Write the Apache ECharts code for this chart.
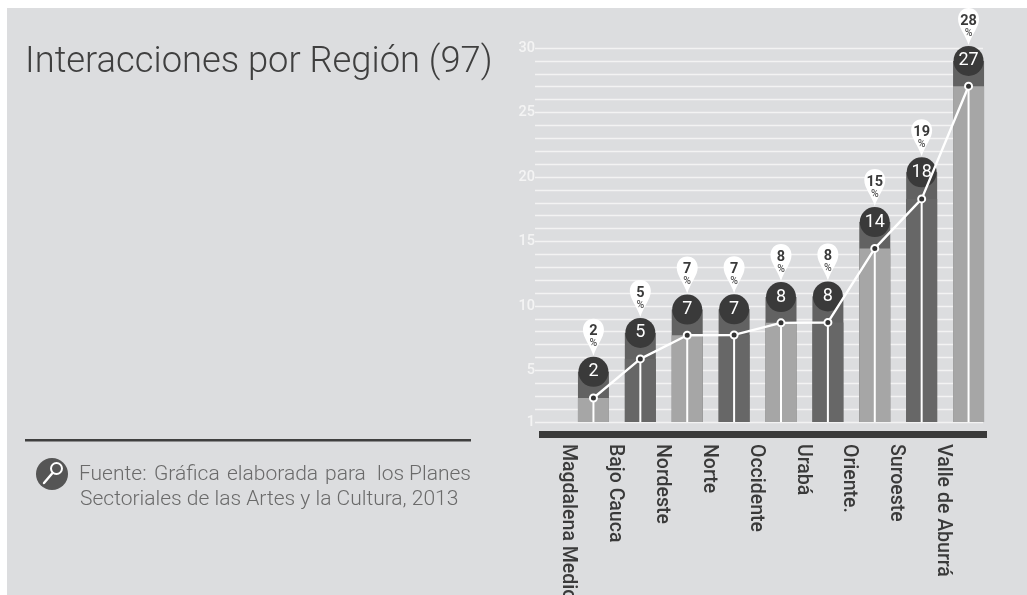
<!DOCTYPE html>
<html><head><meta charset="utf-8">
<style>
html,body{margin:0;padding:0;background:#fff;overflow:hidden}
#bg{position:absolute;left:7px;top:8px;width:1020px;height:587px;background:#dcdddf}
#c{position:absolute;left:0;top:0;width:1027px;height:595px}
</style>
<script src="https://cdn.jsdelivr.net/npm/echarts@6/dist/echarts.min.js"></script>
</head><body><div id="bg"></div><div id="c"></div>
<script>
const categories=['Magdalena Medio','Bajo Cauca','Nordeste','Norte','Occidente','Urabá','Oriente.','Suroeste','Valle de Aburrá'];
const counts=[2,5,7,7,8,8,14,18,27];
const percents=[2,5,7,7,8,8,15,19,28];
const barTops=[4.89,7.91,9.72,9.74,10.69,10.74,16.5,20.36,29.0];
const lineValues=[2.86,5.89,7.73,7.75,8.69,8.72,14.46,18.3,27.04];
const sourceLine1=[['Fuente:',79],['Gráfica',154],['elaborada',227],['para',325],['los',377],['Planes',409]];
const sourceLine2='Sectoriales de las Artes y la Cultura, 2013';

const FONT='Roboto';
const chart=echarts.init(document.getElementById('c'),null,{renderer:'canvas'});
const PIN='M10.5 0C16.5 0 21 4.6 21 11C21 19 14 26 10.5 37C7 26 0 19 0 11C0 4.6 4.5 0 10.5 0Z';
const yBase={type:'value',min:1,max:30,interval:1};
const graphic=[
 {type:'rect',shape:{x:539,y:431,width:448,height:7},style:{fill:'#3a3a3a'}},
 {type:'rect',shape:{x:25,y:439,width:446,height:2.4},style:{fill:'#3f3f3f'}},
 {type:'circle',shape:{cx:52,cy:474,r:16},style:{fill:'#555555'}},
 {type:'circle',shape:{cx:56.5,cy:468.5,r:5.5},style:{fill:'none',stroke:'#fff',lineWidth:2}},
 {type:'line',shape:{x1:44,y1:483,x2:52.5,y2:473},style:{stroke:'#fff',lineWidth:2.4,lineCap:'round'}},
 {type:'text',x:80,y:489,style:{text:sourceLine2,fill:'#6a6a6a',font:'300 21px '+FONT}}
].concat(sourceLine1.map(w=>({type:'text',x:w[1],y:464,style:{text:w[0],fill:'#6a6a6a',font:'300 21px '+FONT}})));

chart.setOption({
 backgroundColor:'transparent',animation:false,
 title:{text:'Interacciones por Región (97)',left:20,top:40,textStyle:{fontFamily:FONT,fontWeight:300,fontSize:36.3,color:'#3f3f3f'}},
 graphic:graphic,
 grid:[
  {left:535,top:48,width:448,height:374,outerBoundsMode:'none'},
  {left:570,top:48,width:422,height:374,outerBoundsMode:'none'},
  {left:544.5,top:48,width:422,height:374,outerBoundsMode:'none'}
 ],
 xAxis:[
  {gridIndex:0,type:'value',min:0,max:1,show:false},
  {gridIndex:1,type:'category',data:categories,show:false},
  {gridIndex:2,type:'category',data:categories,axisLine:{show:false},axisTick:{show:false},
   axisLabel:{interval:0,rotate:-90,margin:22,fontFamily:FONT,fontWeight:500,fontSize:19.5,color:'#3a3a3a'}}
 ],
 yAxis:[
  Object.assign({gridIndex:0,axisLine:{show:false},axisTick:{show:false},
   splitLine:{show:true,lineStyle:{color:'#f3f3f3',width:1.4}},
   axisLabel:{margin:0,fontFamily:FONT,fontWeight:500,fontSize:14.5,color:'#f4f4f4',
    formatter:v=>(v===1||v%5===0)?String(v):''}},yBase),
  Object.assign({gridIndex:1,show:false},yBase),
  Object.assign({gridIndex:2,show:false},yBase)
 ],
 series:[
  {type:'bar',xAxisIndex:1,yAxisIndex:1,barWidth:31,barGap:'-100%',data:barTops,
   itemStyle:{color:'#626262'},z:2},
  {type:'bar',xAxisIndex:1,yAxisIndex:1,barWidth:31,barGap:'-100%',data:lineValues,
   itemStyle:{color:p=>p.dataIndex%2===0?'#a6a6a6':'#676767'},z:2},
  {type:'custom',xAxisIndex:1,yAxisIndex:1,z:3,clip:false,
   encode:{x:0,y:1},data:lineValues.map((v,i)=>[i,v]),
   renderItem:(p,api)=>{
     const a=api.coord([api.value(0),api.value(1)]),b=api.coord([api.value(0),1]);
     return {type:'rect',shape:{x:a[0]-1,y:a[1],width:2,height:b[1]-a[1]},style:{fill:'#fff'}};
   }},
  {type:'scatter',xAxisIndex:1,yAxisIndex:1,z:4,symbol:'circle',symbolSize:30,
   itemStyle:{color:'#3a3a3a',opacity:1},
   data:barTops.map((v,i)=>({value:[i,v],count:counts[i]})),
   label:{show:true,position:'inside',color:'#fff',fontFamily:FONT,fontSize:18,
     formatter:p=>String(counts[p.dataIndex])}},
  {type:'custom',xAxisIndex:1,yAxisIndex:1,z:5,clip:false,
   encode:{x:0,y:1},data:barTops.map((v,i)=>[i,v,percents[i]]),
   renderItem:(p,api)=>{
     const c=api.coord([api.value(0),api.value(1)]);
     const top=c[1]-53;
     return {type:'group',children:[
      {type:'path',shape:{pathData:PIN,layout:'cover',x:c[0]-10.5,y:top,width:21,height:37},style:{fill:'#fff'}},
      {type:'text',style:{text:String(api.value(2)),x:c[0],y:top+13,align:'center',verticalAlign:'middle',fill:'#3a3a3a',font:'700 14.5px '+FONT}},
      {type:'text',style:{text:'%',x:c[0],y:top+25,align:'center',verticalAlign:'middle',fill:'#555',font:'500 10.5px '+FONT}}
     ]};
   }},
  {type:'line',xAxisIndex:1,yAxisIndex:1,z:6,data:lineValues,symbol:'circle',symbolSize:7,showSymbol:true,
   lineStyle:{color:'#fff',width:2.4},
   itemStyle:{color:'#333',borderColor:'#fff',borderWidth:2}}
 ]
});
</script></body></html>
